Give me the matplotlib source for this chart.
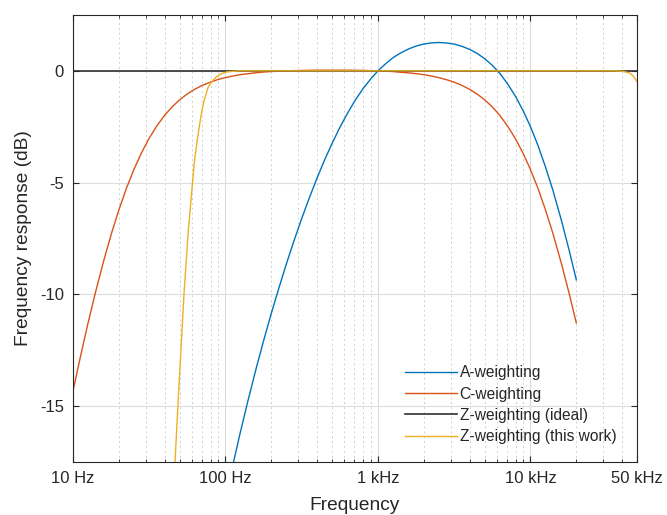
import numpy as np
import matplotlib
matplotlib.use("Agg")
import matplotlib.pyplot as plt
from matplotlib.ticker import FixedLocator, NullFormatter

plt.rcParams['font.family'] = ['Liberation Sans', 'DejaVu Sans']
plt.rcParams['axes.unicode_minus'] = False

# 1/6-octave frequencies (Hz)
c_freq = [10, 11.2, 12.5, 14, 16, 18, 20, 22.4, 25, 28, 31.5, 35.5, 40, 45, 50, 56,
          63, 71, 80, 90, 100, 112, 125, 140, 160, 180, 200, 250, 315, 400, 500,
          630, 800, 1000, 1250, 1400, 1600, 1800, 2000, 2240, 2500, 2800, 3150,
          3550, 4000, 4500, 5000, 5600, 6300, 7100, 8000, 9000, 10000, 11200,
          12500, 14000, 16000, 18000, 20000]
c_weight = [-14.33, -12.78, -11.34, -9.95, -8.43, -7.21, -6.22, -5.26, -4.44, -3.70,
            -3.03, -2.46, -1.98, -1.59, -1.30, -1.04, -0.82, -0.64, -0.50, -0.38,
            -0.30, -0.23, -0.17, -0.13, -0.08, -0.05, -0.03, 0.00, 0.02, 0.03, 0.03,
            0.03, 0.02, 0.00, -0.03, -0.06, -0.09, -0.13, -0.17, -0.23, -0.30, -0.39,
            -0.50, -0.65, -0.83, -1.05, -1.29, -1.60, -1.99, -2.48, -3.05, -3.72,
            -4.41, -5.25, -6.18, -7.24, -8.64, -9.99, -11.28]

a_freq = [63, 80, 90, 100, 112, 125, 140, 160, 180, 200, 224, 250, 280, 315, 355,
          400, 450, 500, 560, 630, 710, 800, 900, 1000, 1120, 1250, 1400, 1600,
          1800, 2000, 2240, 2500, 2800, 3150, 3550, 4000, 4500, 5000, 5600, 6300,
          7100, 8000, 9000, 10000, 11200, 12500, 14000, 16000, 18000, 20000]
a_weight = [-26.2, -22.5, -20.64, -19.15, -17.61, -16.19, -14.80, -13.24, -11.95,
            -10.84, -9.72, -8.67, -7.65, -6.64, -5.68, -4.77, -3.94, -3.25, -2.56,
            -1.91, -1.31, -0.79, -0.35, 0.00, 0.31, 0.58, 0.79, 0.99, 1.12, 1.20,
            1.25, 1.27, 1.25, 1.20, 1.10, 0.96, 0.77, 0.55, 0.26, -0.11, -0.59,
            -1.15, -1.81, -2.49, -3.33, -4.26, -5.31, -6.71, -8.06, -9.35]

z_ideal_f = [10, 50000]
z_ideal = [0, 0]

# measured response of the implemented Z filter
z_work_f = [40, 44, 46.7, 49.1, 53.5, 57, 60.9, 62.5, 65, 67.3, 70, 72.6, 77.1,
            83.2, 88, 94.4, 102, 112, 125, 150, 1000, 10000, 35000, 40500, 44900,
            47500, 50000]
z_work = [-26, -20.5, -17.5, -14.6, -9.96, -7.2, -4.96, -4.1, -3.2, -2.5, -1.8,
          -1.3, -0.72, -0.4, -0.25, -0.12, -0.05, -0.02, 0, 0, 0, 0, 0, -0.02,
          -0.1, -0.25, -0.48]

xticks = [10, 100, 1000, 10000, 50000]
xticklabels = ['10 Hz', '100 Hz', '1 kHz', '10 kHz', '50 kHz']
yticks = [0, -5, -10, -15]

txt = '#262626'
fig = plt.figure(figsize=(6.67, 5.15), dpi=100)
ax = fig.add_axes([0.1094, 0.1029, 0.8456, 0.8680])

ax.plot(a_freq, a_weight, color='#0072BD', lw=1.0, label='A-weighting')
ax.plot(c_freq, c_weight, color='#D95319', lw=1.0, label='C-weighting')
ax.plot(z_ideal_f, z_ideal, color='#303030', lw=1.2, label='Z-weighting (ideal)')
ax.plot(z_work_f, z_work, color='#EDB120', lw=1.0, label='Z-weighting (this work)')

ax.set_xscale('log')
ax.set_xlim(10, 50000)
ax.set_ylim(-17.5, 2.5)

ax.xaxis.set_major_locator(FixedLocator(xticks))
ax.set_xticklabels(xticklabels)
minors = [m * d for d in [10, 100, 1000, 10000] for m in range(2, 10) if m * d < 50000]
ax.xaxis.set_minor_locator(FixedLocator(minors))
ax.xaxis.set_minor_formatter(NullFormatter())
ax.set_yticks(yticks)

ax.grid(True, which='major', color='#dcdcdc', lw=0.8)
ax.grid(True, which='minor', axis='x', color='#d0d0d0', lw=0.7, linestyle=(0, (2, 3)))
ax.set_axisbelow(True)

ax.tick_params(which='both', direction='in', top=True, right=True, colors=txt,
               labelsize=12, pad=6.5)
ax.tick_params(which='major', length=4.5, width=0.8)
ax.tick_params(which='minor', length=2.5, width=0.6)
for s in ax.spines.values():
    s.set_color(txt)
    s.set_linewidth(0.8)

ax.set_xlabel('Frequency', fontsize=13.8, color=txt, labelpad=8)
ax.set_ylabel('Frequency response (dB)', fontsize=13.8, color=txt, labelpad=6)

ax.legend(loc='upper left', bbox_to_anchor=(0.589, 0.216), frameon=False,
          borderpad=0, borderaxespad=0, handlelength=3.3, handletextpad=0.2,
          labelspacing=0.4, fontsize=11.2, labelcolor=txt)

fig.savefig('out.png', dpi=100)
